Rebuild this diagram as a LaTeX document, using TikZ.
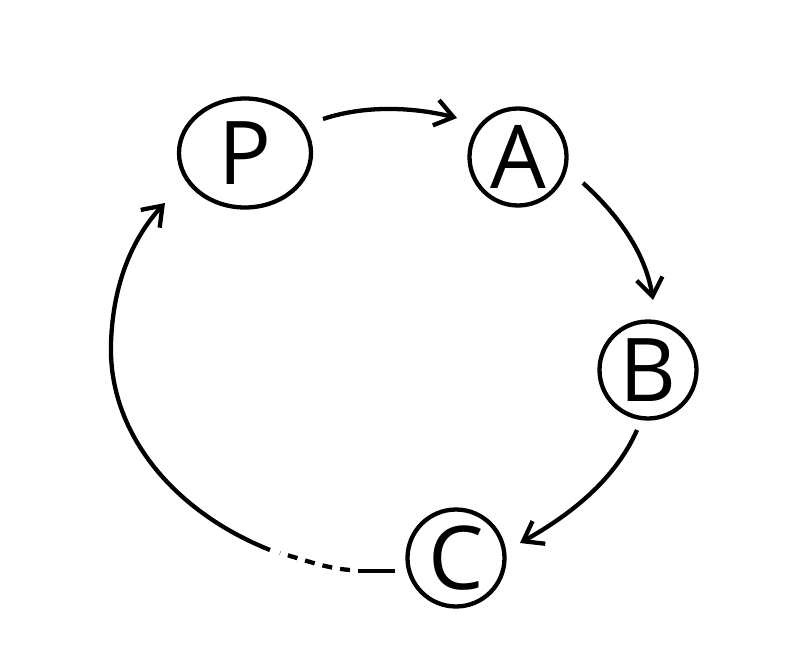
\documentclass[tikz,border=0pt]{standalone}
\usepackage{fontspec}
\setmainfont{Open Sans}
\usetikzlibrary{arrows.meta,shapes.geometric}
\begin{document}
\begin{tikzpicture}[x=1pt,y=-1pt,
  ln/.style={line width=4.3pt},
  arr/.style={ln,-{Straight Barb[length=18pt,width=26pt,line width=4.3pt]}},
  lbl/.style={font=\fontsize{88}{88}\selectfont, inner sep=0pt, draw, line width=4.3pt},
  circ/.style={lbl,circle,minimum size=97pt},
  ell/.style={lbl,ellipse,minimum width=132pt,minimum height=109pt}]
\useasboundingbox (0,0) rectangle (797,658);
\node[ell]  (P) at (245,153) {P};
\node[circ] (A) at (518,157) {A};
\node[circ] (B) at (648,370) {B};
\node[circ] (C) at (456,558) {C};
\coordinate (d1) at (358,571);
\coordinate (d2) at (350,570);
\coordinate (d3) at (280,553);
\coordinate (d4) at (270,550);
\draw[arr] ([shift={(78,-34)}]P.center) .. controls +(45,-15) and +(-40,-10) .. ([shift={(-61,-39)}]A.center);
\draw[arr] ([shift={(65,26)}]A.center) .. controls +(32,29) and +(-8,-50) .. ([shift={(5,-70)}]B.center);
\draw[arr] ([shift={(-11,60)}]B.center) .. controls +(-22,50) and +(50,-28) .. ([shift={(64,-15)}]C.center);
\draw[ln] ([shift={(-61,13)}]C.center) -- (d1);
\draw[ln,dash pattern=on 10pt off 8pt] (d2) .. controls +(-25,-2) and +(25,7) .. (d3);
\draw[arr] (d4) .. controls (170,510) and (108,430) .. (111,343) .. controls (113,280) and (135,235) .. ([shift={(-80,50)}]P.center);
\end{tikzpicture}
\end{document}
